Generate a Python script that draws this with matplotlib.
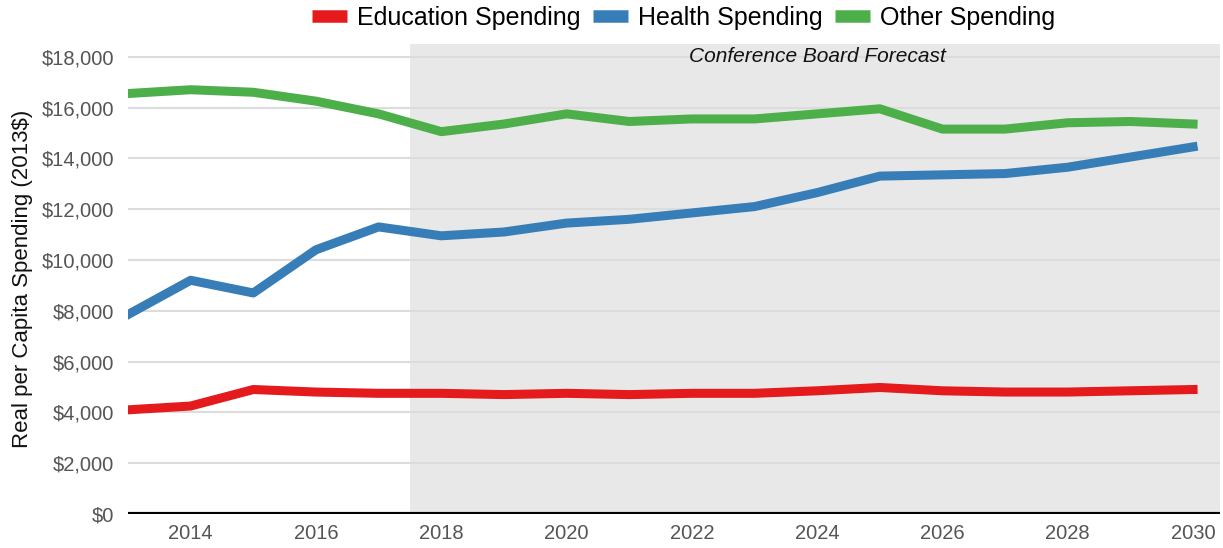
import matplotlib
matplotlib.use("Agg")
import matplotlib.pyplot as plt
from matplotlib.ticker import FuncFormatter

plt.rcParams['font.family'] = ['Liberation Sans', 'DejaVu Sans']

years = list(range(2013, 2031))
education = [4100, 4250, 4900, 4800, 4750, 4750, 4700, 4750, 4700, 4750, 4750, 4850, 4980, 4850, 4800, 4800, 4850, 4900]
health = [7850, 9200, 8700, 10400, 11300, 10950, 11100, 11450, 11600, 11850, 12100, 12650, 13300, 13350, 13400, 13650, 14050, 14450]
other = [16550, 16700, 16600, 16250, 15750, 15050, 15350, 15750, 15450, 15550, 15550, 15750, 15950, 15150, 15150, 15400, 15450, 15350]

forecast_start = 2017.5
yticks = list(range(0, 18001, 2000))
xticks = list(range(2014, 2031, 2))

fig = plt.figure(figsize=(12.23, 5.48), dpi=100)
ax = fig.add_axes([128/1223, 34/548, 1092/1223, 470/548])

ax.axvspan(forecast_start, 2031, color='#e8e8e8', zorder=0, lw=0)
for y in yticks[1:]:
    ax.axhline(y, color='#dcdcdc', lw=1.5, zorder=1)
ax.axhline(0, color='black', lw=3, zorder=5)

ax.plot(years, education, color='#E41A1C', lw=6.5, label='Education Spending', zorder=3)
ax.plot(years, health, color='#377EB8', lw=6.5, label='Health Spending', zorder=3)
ax.plot(years, other, color='#4DAF4A', lw=6.5, label='Other Spending', zorder=3)

ax.text(2024.0, 18000, 'Conference Board Forecast', ha='center', va='center',
        style='italic', fontsize=15, color='#111111', zorder=4)

ax.set_xlim(2013, 2030.43)
ax.set_ylim(0, 18500)
ax.set_xticks(xticks)
ax.set_yticks(yticks)
ax.yaxis.set_major_formatter(FuncFormatter(lambda v, p: f'${int(v):,}'))
ax.tick_params(axis='both', length=0, labelsize=14.5, labelcolor='#555555')
ax.tick_params(axis='x', pad=7)
ax.tick_params(axis='y', pad=10)
for s in ax.spines.values():
    s.set_visible(False)

ax.set_ylabel('Real per Capita Spending (2013$)', fontsize=16, color='#111111', labelpad=6)

leg = fig.legend(loc='upper center', bbox_to_anchor=(0.559, 1.03), ncol=3, frameon=False,
                 fontsize=18, handlelength=1.4, handletextpad=0.4, columnspacing=0.5)
for h in leg.get_lines():
    h.set_linewidth(9)
    h.set_solid_capstyle('butt')

fig.savefig('out.png', dpi=100)
